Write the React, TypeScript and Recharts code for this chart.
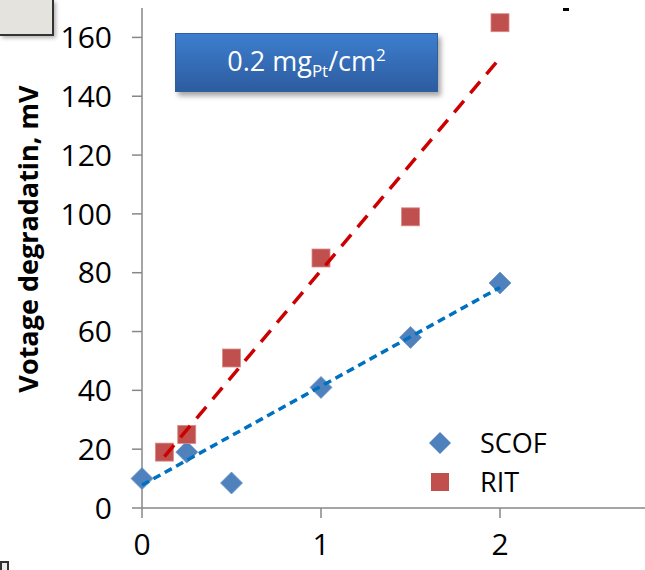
import React from 'react';
import { ScatterChart, Scatter, XAxis, YAxis, Legend } from 'recharts';

const scofX = [0, 0.25, 0.5, 1, 1.5, 2];
const scofY = [10, 19, 8.5, 41, 58, 76.5];
const ritX = [0.125, 0.25, 0.5, 1, 1.5, 2];
const ritY = [19, 25, 51, 85, 99, 165];

// trendline end points
const scofTrend = [
  { x: 0, y: 7.8 },
  { x: 2, y: 75 },
];
const ritTrend = [
  { x: 0.125, y: 17.5 },
  { x: 2, y: 153 },
];

const yTicks = [0, 20, 40, 60, 80, 100, 120, 140, 160];
const xTicks = [0, 1, 2];

const scofData = scofX.map((x, i) => ({ x, y: scofY[i] }));
const ritData = ritX.map((x, i) => ({ x, y: ritY[i] }));

const BLUE = '#4F81BD';
const RED = '#C0504D';
const FONT = '"Open Sans", sans-serif';

const Diamond = (props: any) => {
  const { cx, cy } = props;
  const r = 11;
  return (
    <polygon
      points={`${cx},${cy - r} ${cx + r},${cy} ${cx},${cy + r} ${cx - r},${cy}`}
      fill={BLUE}
      stroke="#6f97c9"
      strokeWidth={0.8}
    />
  );
};

const Square = (props: any) => {
  const { cx, cy } = props;
  const h = 9;
  return <rect x={cx - h} y={cy - h} width={h * 2} height={h * 2} fill={RED} stroke="#d98a88" strokeWidth={0.8} />;
};

const Empty = () => <g />;

const renderLegend = () => (
  <div style={{ fontFamily: FONT, fontSize: 27, color: '#000' }}>
    {[
      { name: 'SCOF', icon: <polygon points="12,1 23,12 12,23 1,12" fill={BLUE} /> },
      { name: 'RIT', icon: <rect x={3} y={3} width={18} height={18} fill={RED} /> },
    ].map((it) => (
      <div key={it.name} style={{ display: 'flex', alignItems: 'center', height: 39 }}>
        <svg width={24} height={24} style={{ marginRight: 28 }}>
          {it.icon}
        </svg>
        <span>{it.name}</span>
      </div>
    ))}
  </div>
);

const yLabel = () => (
  <text
    x={27}
    y={239}
    transform="rotate(-90 27 239)"
    textAnchor="middle"
    dominantBaseline="central"
    fontFamily={FONT}
    fontWeight="bold"
    fontSize={27}
    fill="#000"
  >
    Votage degradatin, mV
  </text>
);

export default function App() {
  const tickStyle = { fontFamily: FONT, fontSize: 30, fill: '#000' };
  return (
    <div
      style={{
        position: 'absolute',
        left: 0,
        top: 0,
        width: 645,
        height: 570,
        overflow: 'hidden',
        background: '#fff',
      }}
    >
      <ScatterChart width={700} height={570} margin={{ top: 8, right: 21, bottom: 12, left: 0 }}>
        <XAxis
          type="number"
          dataKey="x"
          domain={[0, 3]}
          ticks={xTicks}
          tick={tickStyle}
          tickSize={10}
          tickMargin={16}
          height={50}
          stroke="#878787"
          strokeWidth={1.5}
        />
        <YAxis
          type="number"
          dataKey="y"
          domain={[0, 170]}
          ticks={yTicks}
          tick={tickStyle}
          tickSize={10}
          tickMargin={20}
          width={142}
          stroke="#878787"
          strokeWidth={1.5}
          label={{ content: yLabel }}
        />
        <Legend
          layout="vertical"
          align="center"
          verticalAlign="middle"
          wrapperStyle={{ left: 428, top: 423, width: 160 }}
          content={renderLegend}
        />
        <Scatter name="SCOF" data={scofData} shape={Diamond} isAnimationActive={false} />
        <Scatter name="RIT" data={ritData} shape={Square} isAnimationActive={false} />
        <Scatter
          data={scofTrend}
          shape={Empty}
          line={{ stroke: '#0070C0', strokeWidth: 3.5, strokeDasharray: '8 5' }}
          legendType="none"
          isAnimationActive={false}
        />
        <Scatter
          data={ritTrend}
          shape={Empty}
          line={{ stroke: '#CC0000', strokeWidth: 3.5, strokeDasharray: '15 10' }}
          legendType="none"
          isAnimationActive={false}
        />
      </ScatterChart>

      {/* title box */}
      <div
        style={{
          position: 'absolute',
          left: 175,
          top: 33,
          width: 263,
          height: 59,
          background: 'linear-gradient(#3D7ECF, #2D5C9F)',
          border: '1px solid #2f5f9e',
          boxShadow: '3px 4px 5px rgba(0,0,0,0.35)',
          color: '#fff',
          fontFamily: FONT,
          fontSize: 27,
          display: 'flex',
          alignItems: 'center',
          justifyContent: 'center',
          boxSizing: 'border-box',
        }}
      >
        <span>
          0.2 mg<sub style={{ fontSize: 17 }}>Pt</sub>/cm<sup style={{ fontSize: 17 }}>2</sup>
        </span>
      </div>

      {/* cropped shapes at the picture edges */}
      <div
        style={{
          position: 'absolute',
          left: 0,
          top: 0,
          width: 52,
          height: 34,
          background: '#E4E3DE',
          borderRight: '2px solid #333',
          borderBottom: '2px solid #333',
          boxShadow: '2px 2px 4px rgba(0,0,0,0.3)',
        }}
      />
      <div
        style={{
          position: 'absolute',
          left: 0,
          top: 561,
          width: 5,
          height: 12,
          background: '#EDEDE8',
          border: '2px solid #333',
        }}
      />
      <div style={{ position: 'absolute', left: 563, top: 8, width: 6, height: 3, background: '#000' }} />
    </div>
  );
}
